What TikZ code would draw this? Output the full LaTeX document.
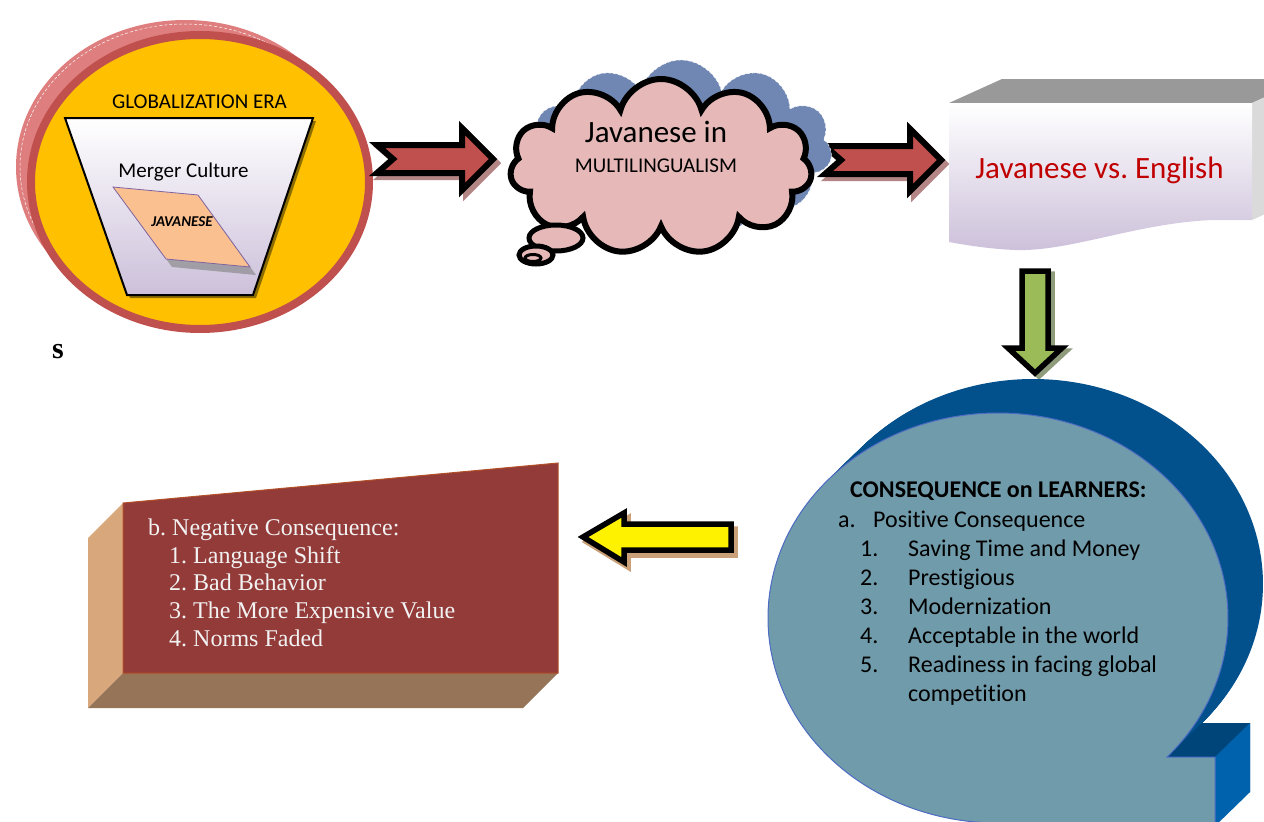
\documentclass[tikz,border=0pt]{standalone}
\usepackage{fontspec}
\setmainfont{Carlito}[Ligatures=NoCommon]
\newfontfamily\timesf{Liberation Serif}
\usetikzlibrary{shapes.callouts,shapes.symbols,shapes.geometric}
\frenchspacing
\definecolor{cyel}{HTML}{FFC000}
\definecolor{cred}{HTML}{C0504D}
\definecolor{cpinkback}{HTML}{DE7E7E}
\definecolor{clav}{HTML}{CCC0DA}
\definecolor{cpeach}{HTML}{FAC090}
\definecolor{cpurp}{HTML}{8064A2}
\definecolor{cpinkcloud}{HTML}{E6B9B8}
\definecolor{cbluecloud}{HTML}{6F87B2}
\definecolor{cdarkred}{HTML}{C00000}
\definecolor{cgreen}{HTML}{9BBB59}
\definecolor{cteal}{HTML}{709BAA}
\definecolor{cnavy}{HTML}{02508C}
\definecolor{cnavydark}{HTML}{00457A}
\definecolor{cbrightblue}{HTML}{0062AC}
\definecolor{cmaroon}{HTML}{923B39}
\definecolor{ctan}{HTML}{D9A77C}
\definecolor{cbrown}{HTML}{957457}
\definecolor{cshred}{HTML}{B38585}
\definecolor{cshgreen}{HTML}{8E9C7C}
\definecolor{cshyel}{HTML}{C9A077}
\definecolor{cshtrap}{HTML}{8C6D00}
\definecolor{cgraytop}{HTML}{999999}
\definecolor{cgrayside}{HTML}{DADADA}
\def\myRedArrow{(-100,0) -- (-116,-14) -- (-31,-14) -- (-31,-31) -- (0,0) -- (-31,31) -- (-31,14) -- (-116,14) -- cycle}
\def\myCallout{(1167,757) arc[start angle=42.7,end angle=-267,x radius=230,y radius=205] -- (985,826) -- (1215,826) -- (1215,757) -- cycle}
\tikzset{
  blockar/.style={line width=6pt, draw=black, line join=miter, miter limit=12},
  basefont/.style={font=\fontsize{21}{25}\selectfont},
  brtext/.style={font=\fontsize{24}{29}\selectfont, anchor=base west, inner sep=0pt},
  bltext/.style={font=\timesf\fontsize{24}{28}\selectfont, anchor=base west, inner sep=0pt, text=white!95!black},
  cloudbox/.style={cloud, cloud puffs=11, cloud ignores aspect, minimum width=302pt, minimum height=176pt, inner sep=0pt},
  bubble/.style={draw=black, line width=5pt, fill=cpinkcloud},
}
\begin{document}
\begin{tikzpicture}[x=1pt,y=-1pt]
\useasboundingbox (0,0) rectangle (1264,822);
\clip (0,0) rectangle (1264,822);

% ---------- Globalization era circle ----------
\foreach \k in {0,...,15} {
  \fill[cpinkback] (185+\k,167+\k) ellipse[x radius=169pt, y radius=147pt];
}
\draw[white, densely dashed, line width=0.5pt] (185,167) ellipse[x radius=165pt, y radius=143pt];
\node[draw=cred, line width=8pt, fill=cyel, ellipse, minimum width=338pt, minimum height=294pt, inner sep=0pt] (glob) at (200,182) {};
\fill[cshtrap] (68,121) -- (316,121) -- (256,298) -- (130,298) -- cycle;
\draw[line width=2pt, top color=white, bottom color=clav] (65,118) -- (313,118) -- (253,295) -- (127,295) -- cycle;
\fill[gray, opacity=0.6] (119,195) -- (204,203) -- (256,275) -- (172,267) -- cycle;
\draw[cpurp, line width=0.8pt, fill=cpeach] (113,187) -- (198,195) -- (250,267) -- (166,259) -- cycle;
\node[basefont, anchor=base] (gera) at (199.5,108) {GLOBALIZATION ERA};
\node[basefont, anchor=base] (merger) at (183.5,177) {Merger Culture};
\node[font=\fontsize{15}{17}\selectfont\bfseries\itshape] (jav) at (182,222) {JAVANESE};
\node[font=\timesf\bfseries\fontsize{30}{34}\selectfont, anchor=base] (s) at (58,358) {s};

% ---------- arrow 1 ----------
\draw[blockar, draw=cshred, fill=cshred, shift={(497,163)}] \myRedArrow;
\draw[blockar, fill=cred, shift={(493,159)}] \myRedArrow;

% ---------- arrow 2 ----------
\draw[blockar, draw=cshred, fill=cshred, shift={(945,164)}] \myRedArrow;
\draw[blockar, fill=cred, shift={(941,160)}] \myRedArrow;

% ---------- cloud ----------
\node[cloudbox, fill=cbluecloud, draw=white, densely dashed, line width=0.5pt] (cloudsh) at (681,148) {};
\node[cloudbox, draw=black, line width=6pt, fill=cpinkcloud] (cloud) at (661,167) {};
\draw[bubble] (556,238) ellipse[x radius=27pt, y radius=13pt];
\draw[bubble] (536,255) ellipse[x radius=17pt, y radius=9pt];
\draw[black, line width=3pt] (533,258) ellipse[x radius=8pt, y radius=3.5pt];
\node[font=\fontsize{31}{36}\selectfont, anchor=base] (jin) at (656,142) {Javanese in};
\node[basefont, anchor=base] (multi) at (656,172) {MULTILINGUALISM};

% ---------- Javanese vs English ----------
\fill[cgraytop] (949,103) -- (1002,79) -- (1305,79) -- (1252,103) -- cycle;
\fill[cgrayside] (1252,103) -- (1305,79) -- (1305,196) -- (1252,220) -- cycle;
\path[top color=white, bottom color=clav] (949,103) -- (1252,103) -- (1252,220) -- (1215,220)
  .. controls (1140,222) and (1070,252) .. (1015,250)
  .. controls (990,249) and (965,245) .. (949,242) -- cycle;
\node[font=\fontsize{31}{36}\selectfont, text=cdarkred, anchor=base] (jve) at (1099.5,178) {Javanese vs. English};

% ---------- green arrow down ----------
\draw[line width=5.5pt, draw=cshgreen, fill=cshgreen, line join=miter, shift={(4,3)}] (1022,271) -- (1048,271) -- (1048,348) -- (1062,348) -- (1035,373) -- (1008,348) -- (1022,348) -- cycle;
\draw[line width=5.5pt, fill=cgreen, line join=miter] (1022,271) -- (1048,271) -- (1048,348) -- (1062,348) -- (1035,373) -- (1008,348) -- (1022,348) -- cycle;

% ---------- consequence callout ----------
\foreach \k in {0,...,35} {
  \fill[cnavy, shift={(\k,-\k*34/35)}] \myCallout;
}
\fill[cnavydark] (1167,757) -- (1202,723) -- (1250,723) -- (1215,757) -- cycle;
\fill[cbrightblue] (1215,757) -- (1250,723) -- (1250,792) -- (1215,826) -- cycle;
\draw[fill=cteal, draw=cteal!70!blue, line width=1pt] \myCallout;
\node[brtext, font=\fontsize{24}{29}\selectfont\bfseries] (cons) at (850,497) {CONSEQUENCE on LEARNERS:};
\node[brtext] (pa) at (838,527) {a.};
\node[brtext] (pos) at (873,527) {Positive Consequence};
\node[brtext] (n1) at (860,556) {1.};
\node[brtext] (t1) at (908,556) {Saving Time and Money};
\node[brtext] (n2) at (860,585) {2.};
\node[brtext] (t2) at (908,585) {Prestigious};
\node[brtext] (n3) at (860,614) {3.};
\node[brtext] (t3) at (908,614) {Modernization};
\node[brtext] (n4) at (860,643) {4.};
\node[brtext] (t4) at (908,643) {Acceptable in the world};
\node[brtext] (n5) at (860,672) {5.};
\node[brtext] (t5) at (908,672) {Readiness in facing global};
\node[brtext] (t5b) at (908,701) {competition};

% ---------- yellow arrow ----------
\draw[line width=5.5pt, draw=cshyel, fill=cshyel, line join=miter, shift={(4,5)}] (583,537) -- (624,513) -- (624,524) -- (731,524) -- (731,550) -- (624,550) -- (624,562) -- cycle;
\draw[line width=5.5pt, fill=yellow, line join=miter] (583,537) -- (624,513) -- (624,524) -- (731,524) -- (731,550) -- (624,550) -- (624,562) -- cycle;

% ---------- negative consequence box ----------
\fill[ctan] (88,538) -- (123,503) -- (123,673) -- (88,708) -- cycle;
\fill[cbrown] (123,673) -- (558,673) -- (523,708) -- (88,708) -- cycle;
\draw[fill=cmaroon, draw=cmaroon!70!orange, line width=1pt] (123,503) -- (558,463) -- (558,673) -- (123,673) -- cycle;
\node[bltext] (neg) at (148,535) {b. Negative Consequence:};
\node[bltext] (l1) at (169,563) {1. Language Shift};
\node[bltext] (l2) at (169,590) {2. Bad Behavior};
\node[bltext] (l3) at (169,618) {3. The More Expensive Value};
\node[bltext] (l4) at (169,646) {4. Norms Faded};
\end{tikzpicture}
\end{document}
